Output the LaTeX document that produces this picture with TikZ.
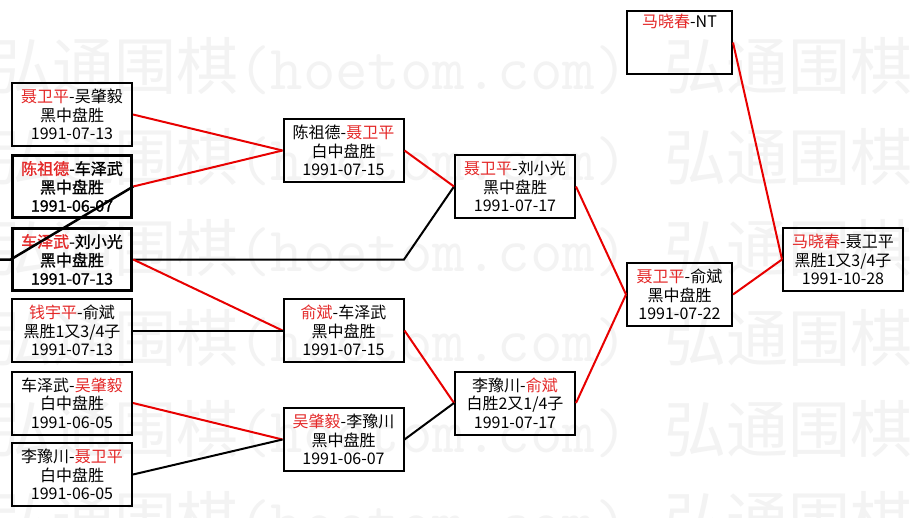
\documentclass[tikz,border=0pt]{standalone}
\usepackage{fontspec}
\setmainfont{Noto Sans CJK SC}
\newfontfamily\cjkb[FakeBold=1.2]{Noto Sans CJK SC}
\definecolor{namered}{RGB}{228,40,40}
\definecolor{linered}{RGB}{232,0,0}
\definecolor{wmgray}{RGB}{243,243,243}
\newcommand{\rn}[1]{\textcolor{namered}{#1}}
\tikzset{
  game/.style={draw=black, line width=2pt, minimum width=120pt, minimum height=63pt,
    inner sep=0pt, align=center, text=black, font=\fontsize{16}{18.5}\selectfont},
  narrowbox/.style={minimum width=105pt},
  heavy/.style={line width=3.5pt, minimum width=119pt, minimum height=62pt,
    font=\fontsize{16}{18.5}\selectfont\cjkb},
  win/.style={draw=linered, line width=2pt},
  lose/.style={draw=black, line width=2pt},
  wm/.style={inner sep=0pt, text=wmgray, anchor=base west, font=\fontsize{62}{62}\selectfont}
}
\begin{document}
\begin{tikzpicture}[x=1pt,y=-1pt]
\useasboundingbox (0,0) rectangle (915,517);
\fill[white] (0,0) rectangle (915,517);
% watermark
\begin{scope}
\clip (0,0) rectangle (915,517);
\foreach \k/\yy in {1/89,2/180,3/271,4/361,5/452,6/543}{
  \node[wm] (wmL\k) at (-10,\yy) {弘通围棋{\ttfamily\fontsize{63}{63}\selectfont(hoetom.com)}};
  \node[wm] (wmR\k) at (664,\yy) {弘通围棋};
}
\end{scope}
% games
\node[game] (A) at (72,114.5) {\rn{聂卫平}-吴肇毅\\黑中盘胜\\1991-07-13};
\node[game,heavy] (B) at (72,186.5) {\rn{陈祖德}-车泽武\\黑中盘胜\\1991-06-07};
\node[game,heavy] (C) at (72,259.5) {\rn{车泽武}-刘小光\\黑中盘胜\\1991-07-13};
\node[game] (D) at (72,330.5) {\rn{钱宇平}-俞斌\\黑胜1又3/4子\\1991-07-13};
\node[game] (E) at (72,403) {车泽武-\rn{吴肇毅}\\白中盘胜\\1991-06-05};
\node[game] (F) at (72,474.5) {李豫川-\rn{聂卫平}\\白中盘胜\\1991-06-05};
\node[game] (G) at (343.5,150.5) {陈祖德-\rn{聂卫平}\\白中盘胜\\1991-07-15};
\node[game] (H) at (343.5,330.5) {\rn{俞斌}-车泽武\\黑中盘胜\\1991-07-15};
\node[game] (I) at (343.5,439.5) {\rn{吴肇毅}-李豫川\\黑中盘胜\\1991-06-07};
\node[game] (J) at (515,186.5) {\rn{聂卫平}-刘小光\\黑中盘胜\\1991-07-17};
\node[game] (K) at (515,403) {李豫川-\rn{俞斌}\\白胜2又1/4子\\1991-07-17};
\node[game,narrowbox] (L) at (679.5,42.5) {\rn{马晓春}-NT\\\strut\\\strut};
\node[game,narrowbox] (M) at (679.5,294.5) {\rn{聂卫平}-俞斌\\黑中盘胜\\1991-07-22};
\node[game] (N) at (843,259.5) {\rn{马晓春}-聂卫平\\黑胜1又3/4子\\1991-10-28};
% connectors
\coordinate (inlet) at (0,259.5);
\coordinate (bend) at (404,259.5);
\draw[win] (A.east) -- (G.west);
\draw[win] (B.east) -- (G.west);
\draw[lose, line width=2.5pt] (inlet) -- (C.west) -- (B.east);
\draw[lose] (C.east) -- (bend) -- (J.west);
\draw[win] (C.east) -- (H.west);
\draw[lose] (D.east) -- (H.west);
\draw[win] (E.east) -- (I.west);
\draw[lose] (F.east) -- (I.west);
\draw[win] (G.east) -- (J.west);
\draw[win] (H.east) -- (K.west);
\draw[lose] (I.east) -- (K.west);
\draw[win] (J.east) -- (M.west);
\draw[win] (K.east) -- (M.west);
\draw[win] (L.east) -- (N.west);
\draw[win] (M.east) -- (N.west);
\end{tikzpicture}
\end{document}
